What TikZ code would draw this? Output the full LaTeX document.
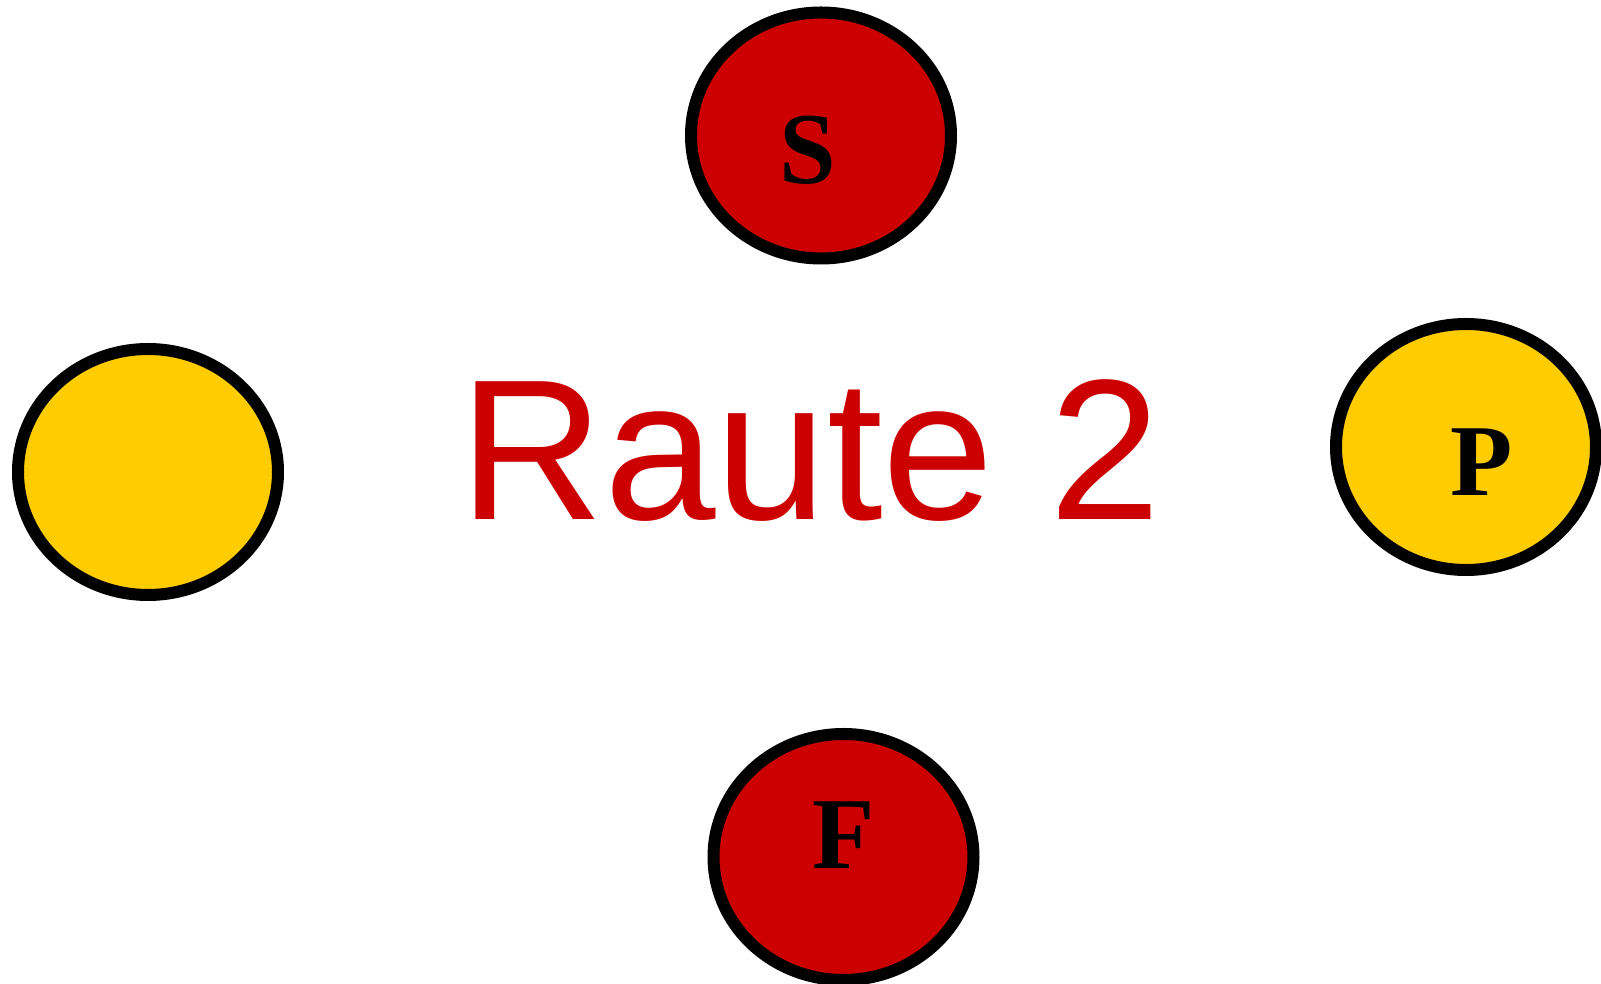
\documentclass[tikz,border=0pt]{standalone}
\usepackage{fontspec}
\setmainfont{Liberation Serif}
\newfontfamily\handfont{Liberation Sans}
\usepackage{xcolor}
\usepackage{tikz}
\usetikzlibrary{shapes.geometric, positioning}

\definecolor{rautered}{HTML}{CC0000}
\definecolor{rauteyellow}{HTML}{FFCC00}

\begin{document}
\begin{tikzpicture}[
    spot/.style={draw=black, ellipse, line width=0.12cm, minimum width=2.6cm, minimum height=2.46cm, inner sep=0pt},
    spotlabel/.style={inner sep=0pt, font=\fontsize{29}{29}\selectfont\bfseries}
]
    \useasboundingbox (0,0) rectangle (16.01,9.84);
    \foreach \nm/\x/\y/\col in {s/8.21/8.485/rautered, f/8.435/1.27/rautered, l/1.48/5.12/rauteyellow, p/14.66/5.37/rauteyellow} {
        \node[spot, fill=\col] (\nm) at (\x,\y) {};
    }
    \node[spotlabel] (slbl) at (8.08,8.34) {S};
    \node[spotlabel] (plbl) at (14.815,5.215) {P};
    \node[spotlabel] (flbl) at (8.435,1.49) {F};
    \node[inner sep=0pt, text=rautered, font=\handfont\fontsize{57}{57}\selectfont] (title) at (8.105,5.33) {Raute 2};
\end{tikzpicture}
\end{document}
